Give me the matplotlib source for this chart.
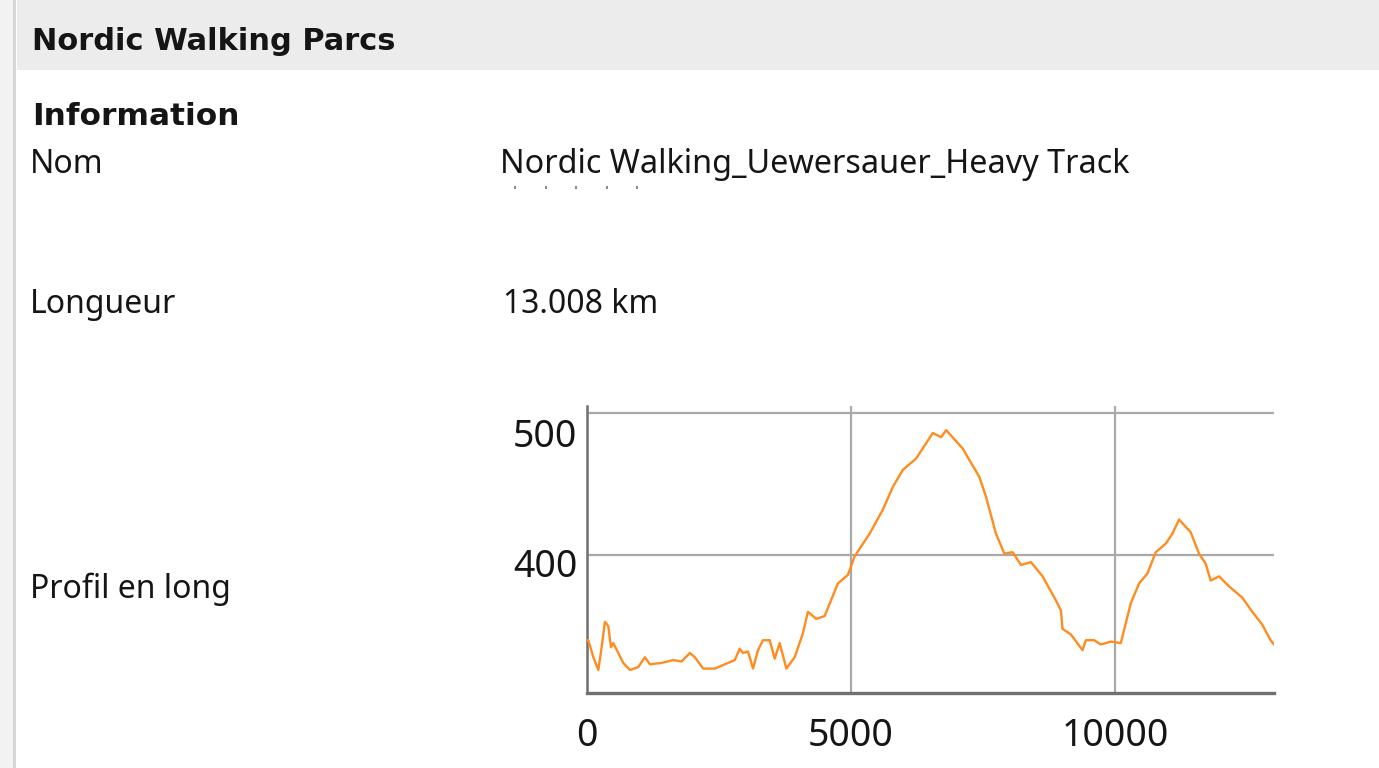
import matplotlib
matplotlib.use("Agg")
import matplotlib.pyplot as plt
import matplotlib.transforms as mtransforms
from matplotlib.patches import Rectangle

# elevation profile (distance in m, altitude in m)
distance = [0, 25, 120, 214, 277, 340, 403, 454, 497, 592, 686, 813, 970,
            1096, 1191, 1412, 1631, 1790, 1947, 2042, 2199, 2420, 2609, 2798,
            2892, 2955, 3049, 3144, 3238, 3333, 3459, 3554, 3648, 3775, 3932,
            4089, 4183, 4341, 4499, 4751, 4940, 5066, 5350, 5602, 5791, 5980,
            6232, 6547, 6705, 6800, 7114, 7429, 7555, 7744, 7902, 8059, 8217,
            8406, 8626, 8879, 8973, 9004, 9163, 9382, 9446, 9603, 9729, 9918,
            10107, 10296, 10454, 10611, 10769, 10958, 11083, 11210, 11431,
            11588, 11714, 11809, 11966, 12155, 12407, 12596, 12785, 12943, 13008]
altitude = [340, 340, 328, 319, 335, 353, 350, 335, 338, 331, 324, 319, 321,
            328, 323, 324, 326, 325, 331, 328, 320, 320, 323, 326,
            334, 331, 332, 320, 333, 340, 340, 327, 338, 320, 328,
            345, 360, 355, 357, 380, 386, 399, 415, 432, 448, 460,
            468, 486, 483, 488, 475, 455, 441, 415, 401, 402, 393,
            395, 385, 368, 361, 348, 344, 333, 340, 340, 337, 339,
            338, 366, 380, 387, 402, 408, 415, 425, 416,
            401, 394, 382, 385, 378, 370, 360, 351, 340, 337]

x_ticks = [0, 5000, 10000]
y_ticks = [400, 500]

header = "Nordic Walking Parcs"
section = "Information"
field_labels = ["Nom", "Longueur", "Profil en long"]
field_values = ["Nordic Walking_Uewersauer_Heavy Track", "13.008 km"]

W, H = 1379, 768
fig = plt.figure(figsize=(W / 100, H / 100), dpi=100)
fig.patch.set_facecolor("white")

def fy(py):
    return 1 - py / H

# left border strip and header band
fig.patches.append(Rectangle((0, 0), 13 / W, 1, transform=fig.transFigure,
                             facecolor="#f2f2f2", edgecolor="none", zorder=0))
fig.patches.append(Rectangle((13 / W, 0), 3 / W, 1, transform=fig.transFigure,
                             facecolor="#d6d6d6", edgecolor="none", zorder=0))
fig.patches.append(Rectangle((17 / W, fy(70)), 1, 70 / H, transform=fig.transFigure,
                             facecolor="#ececec", edgecolor="none", zorder=0))

ui = "Noto Sans"
bold_ui = "DejaVu Sans"
txt = "#151515"
fig.text(32 / W, fy(50), header, fontsize=22, fontweight="bold", family=bold_ui,
         color=txt, va="baseline")
fig.text(32 / W, fy(125), section, fontsize=22.5, fontweight="bold", family=bold_ui,
         color=txt, va="baseline")
fig.text(30 / W, fy(173), field_labels[0], fontsize=23, family=ui, color=txt, va="baseline")
fig.text(30 / W, fy(313), field_labels[1], fontsize=23, family=ui, color=txt, va="baseline")
fig.text(30 / W, fy(598), field_labels[2], fontsize=23, family=ui, color=txt, va="baseline")
fig.text(500 / W, fy(173), field_values[0], fontsize=23.3, family=ui, color=txt, va="baseline")
fig.text(503 / W, fy(313), field_values[1], fontsize=23, family=ui, color=txt, va="baseline")

# little spell-check dots under the name
for px in [514, 545, 575, 606, 636]:
    fig.patches.append(Rectangle((px / W, fy(189)), 2 / W, 3 / H, transform=fig.transFigure,
                                 facecolor="#8a8a8a", edgecolor="none"))

# profile chart
ax = fig.add_axes([587 / W, fy(693), 687 / W, 287 / H])
ax.plot(distance, altitude, color="#ff8c1f", linewidth=1.7, zorder=3)
ax.set_xlim(0, 13008)
ax.set_ylim(302.8, 505)
ax.set_xticks(x_ticks)
ax.set_yticks(y_ticks)
ax.grid(True, color="#a9a9a9", linewidth=1.6)
ax.set_axisbelow(True)
for s in ["top", "right"]:
    ax.spines[s].set_visible(False)
ax.spines["left"].set_color("#707070")
ax.spines["left"].set_linewidth(1.8)
ax.spines["bottom"].set_color("#707070")
ax.spines["bottom"].set_linewidth(2.4)
ax.tick_params(length=0, labelsize=27, labelcolor="#151515")
ax.tick_params(axis="x", pad=17)
ax.tick_params(axis="y", pad=7)
for lab in ax.get_xticklabels() + ax.get_yticklabels():
    lab.set_family(ui)

# y labels sit a bit below their grid lines in the screenshot
shifts = {400: -7, 500: -19}
for tick_val, lab in zip(y_ticks, ax.get_yticklabels()):
    lab.set_transform(lab.get_transform() +
                      mtransforms.ScaledTranslation(0, shifts[tick_val] / 100, fig.dpi_scale_trans))

fig.savefig("out.png", dpi=100)
